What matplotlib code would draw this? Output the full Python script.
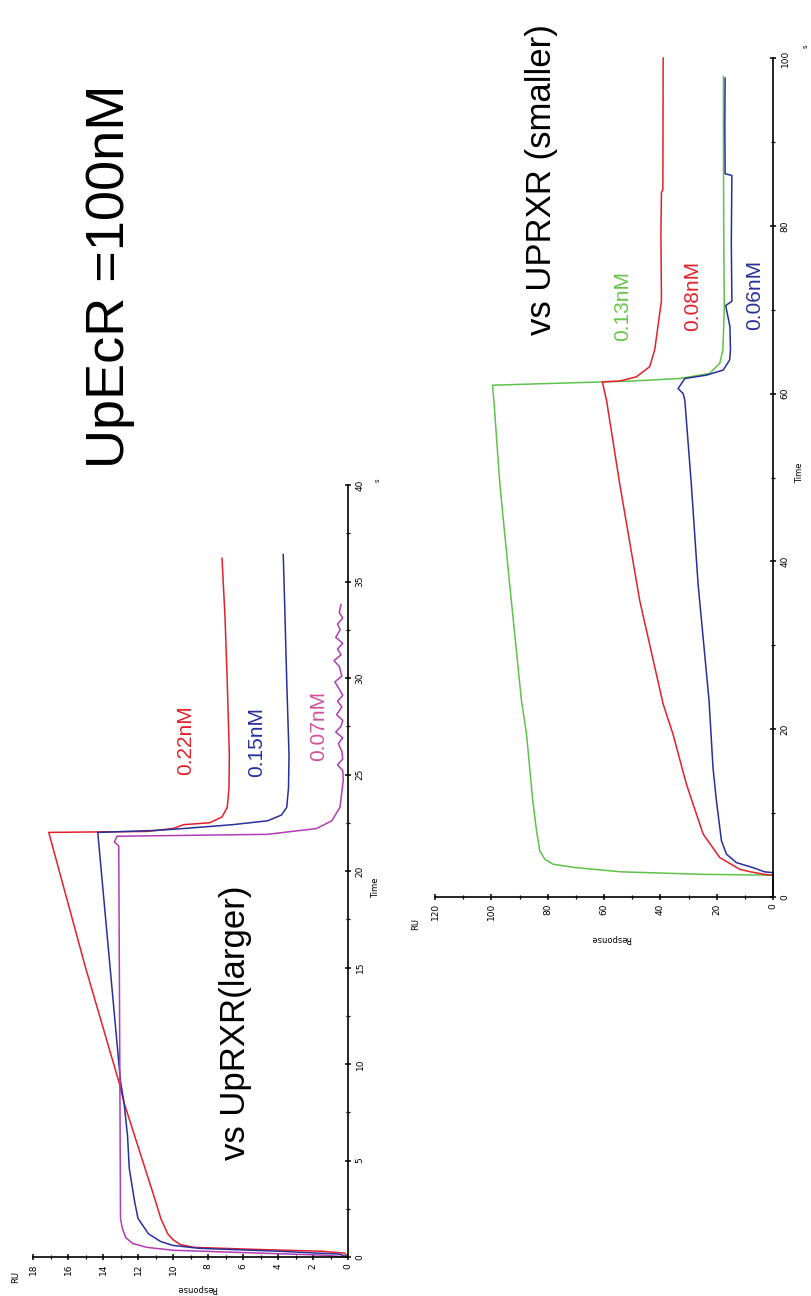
import matplotlib
matplotlib.use("Agg")
import matplotlib.pyplot as plt
from matplotlib import font_manager
from matplotlib.ticker import MultipleLocator

# ---- data: UpEcR 100 nM vs UpRXR (larger), time (s) / response (RU)
larger_t_022 = [0, 0.2, 0.3, 0.4, 0.5, 0.65, 0.9, 1.2, 2.0, 2.9, 4.6, 6.3, 8.0, 9.1, 15.0, 22.0,
                22.05, 22.2, 22.4, 22.5, 22.8, 23.3, 24.3, 26.0, 29.8, 33.2, 36.2]
larger_r_022 = [0, 0.2, 1.5, 5.5, 8.8, 9.6, 10.0, 10.3, 10.7, 11.0, 11.6, 12.2, 12.8, 13.1, 15.0, 17.1,
                11.5, 10.0, 9.4, 7.9, 7.2, 6.9, 6.8, 6.78, 6.9, 7.03, 7.2]
larger_t_015 = [0, 0.15, 0.3, 0.45, 0.6, 0.8, 1.2, 2.0, 2.9, 4.6, 6.3, 8.0, 9.1, 22.0,
                22.1, 22.2, 22.4, 22.6, 22.9, 23.3, 24.3, 26.0, 29.8, 33.2, 36.4]
larger_r_015 = [0, 0.5, 4.0, 8.5, 10.0, 10.7, 11.4, 12.0, 12.2, 12.5, 12.6, 12.8, 13.0, 14.3,
                11.0, 9.4, 6.6, 4.6, 3.8, 3.5, 3.4, 3.37, 3.5, 3.6, 3.7]
larger_t_007 = [0, 0.1, 0.2, 0.35, 0.5, 0.7, 1.0, 1.5, 2.0, 12.0, 21.3, 21.5, 21.8,
                21.9, 22.2, 22.6, 23.3, 24.7, 25.2, 25.5, 25.8, 26.2, 26.6, 26.9, 27.2, 27.5,
                27.8, 28.1, 28.5, 28.8, 29.1, 29.5, 29.8, 30.1, 30.6, 30.9, 31.2, 31.5, 31.8,
                32.1, 32.5, 32.8, 33.1, 33.4, 33.8]
larger_r_007 = [0, 1.5, 5.0, 10.0, 11.5, 12.3, 12.7, 12.9, 13.0, 13.05, 13.1, 13.35, 13.2,
                4.6, 1.8, 0.93, 0.46, 0.27, 0.3, 0.6, 0.3, 0.35, 0.55, 0.3, 0.7, 0.4,
                0.3, 0.65, 0.35, 0.6, 0.3, 0.55, 0.75, 0.35, 0.5, 0.8, 0.4, 0.6, 0.3,
                0.7, 0.45, 0.6, 0.3, 0.5, 0.4]

# ---- data: vs UPRXR (smaller)
smaller_t_013 = [0, 2.6, 2.7, 3.0, 3.5, 3.9, 4.5, 5.5, 8.0, 11.5, 19.4, 23.4, 37.3, 49.3, 59.2, 61.0,
                 61.2, 61.5, 61.8, 62.4, 63.6, 65.2, 70.0, 80.0, 90.0, 97.8]
smaller_r_013 = [0, 0, 25, 54, 70, 78, 81, 82.8, 84.0, 85.3, 87.5, 89.3, 93.5, 97.0, 99.1, 99.6,
                 80, 50, 33, 22.5, 18.9, 17.8, 17.3, 17.5, 17.6, 17.6]
smaller_t_008 = [0, 2.6, 2.7, 3.0, 3.3, 4.7, 7.5, 13.4, 19.4, 23.0, 35.3, 49.2, 59.2, 61.4,
                 61.5, 62.0, 63.2, 65.2, 71.1, 79.0, 84.0, 84.3, 100]
smaller_r_008 = [0, 0, 3, 8, 11.8, 18.9, 24.8, 30.7, 35.5, 39.0, 47.3, 54.4, 59.1, 60.6,
                 54.4, 48.5, 43.8, 42.0, 39.6, 39.8, 39.6, 39.1, 39.0]
smaller_t_006 = [0, 2.9, 3.0, 3.5, 4.1, 5.1, 6.7, 11.5, 15.4, 23.4, 37.3, 49.2, 59.2, 60.0, 60.6,
                 61.2, 61.8, 62.2, 62.8, 64.0, 65.2, 68.0, 70.5, 71.0, 78.0, 86.0, 86.2, 92.0, 97.6]
smaller_r_006 = [0, 0, 3, 7.1, 13.0, 16.5, 18.3, 20.1, 21.3, 22.7, 26.6, 29.0, 31.3, 31.9, 33.7,
                 32.5, 31.3, 23.6, 17.7, 15.4, 15.1, 15.3, 16.8, 14.6, 14.8, 14.6, 17.0, 17.1, 17.0]

RED = "#e3202a"
BLUE = "#27309a"
MAGENTA = "#b23cb4"
GREEN = "#5ec24a"

W, H = 811, 1296
fig = plt.figure(figsize=(W / 100, H / 100), dpi=100)

names = {f.name for f in font_manager.fontManager.ttflist}
narrow = "Liberation Sans Narrow" in names
sub_font = "Liberation Sans Narrow" if narrow else "Liberation Sans"
sub_size = 30 if narrow else 25


def px(x, y):
    return x / W, 1 - y / H


def make_axes(x0, x1, y0, y1, rmax, rstep, rminor, tmax, tstep, tminor):
    l, b = px(x0, y1)
    r, t = px(x1, y0)
    ax = fig.add_axes([l, b, r - l, t - b])
    ax.set_xlim(rmax, 0)
    ax.set_ylim(0, tmax)
    ax.spines["top"].set_visible(False)
    ax.spines["left"].set_visible(False)
    ax.spines["bottom"].set_linewidth(1.2)
    ax.spines["right"].set_linewidth(1.2)
    ax.yaxis.tick_right()
    ax.xaxis.set_major_locator(MultipleLocator(rstep))
    ax.xaxis.set_minor_locator(MultipleLocator(rminor))
    ax.yaxis.set_major_locator(MultipleLocator(tstep))
    ax.yaxis.set_minor_locator(MultipleLocator(tminor))
    ax.tick_params(which="major", direction="inout", length=5, width=1.1, labelsize=6.5)
    ax.tick_params(which="minor", direction="inout", length=3, width=0.9)
    ax.tick_params(axis="x", pad=2, labelrotation=90)
    ax.tick_params(axis="y", pad=3, labelrotation=90)
    for lab in ax.get_yticklabels():
        lab.set_va("center")
    ax.patch.set_alpha(0)
    return ax


ax1 = make_axes(33, 348, 485, 1257, 18, 2, 1, 40, 5, 2.5)
ax1.plot(larger_r_022, larger_t_022, color=RED, lw=1.1, clip_on=False)
ax1.plot(larger_r_015, larger_t_015, color=BLUE, lw=1.1, clip_on=False)
ax1.plot(larger_r_007, larger_t_007, color=MAGENTA, lw=1.1, clip_on=False)

ax2 = make_axes(435, 773, 58, 897, 120, 20, 10, 100, 20, 10)
ax2.plot(smaller_r_013, smaller_t_013, color=GREEN, lw=1.1, clip_on=False)
ax2.plot(smaller_r_008, smaller_t_008, color=RED, lw=1.1, clip_on=False)
ax2.plot(smaller_r_006, smaller_t_006, color=BLUE, lw=1.1, clip_on=False)

lab_kw = dict(rotation=90, ha="center", va="center", fontsize=15, family="Liberation Sans")
ax1.text(9.26, 26.8, "0.22nM", color=RED, **lab_kw)
ax1.text(5.2, 26.7, "0.15nM", color=BLUE, **lab_kw)
ax1.text(1.7, 27.5, "0.07nM", color="#d4509a", **lab_kw)
ax2.text(53.5, 70.4, "0.13nM", color="#66c447", **lab_kw)
ax2.text(28.5, 71.6, "0.08nM", color=RED, **lab_kw)
ax2.text(6.5, 71.7, "0.06nM", color=BLUE, **lab_kw)

# axis captions
small = dict(fontsize=6, ha="center", va="center")
fig.text(*px(376, 888), "Time", rotation=90, **small)
fig.text(*px(800, 473), "Time", rotation=90, **small)
fig.text(*px(16, 1277), "RU", rotation=90, **small)
fig.text(*px(416, 924), "RU", rotation=90, **small)
fig.text(*px(197, 1289), "Response", rotation=180, **small)
fig.text(*px(611, 939), "Response", rotation=180, **small)
fig.text(*px(378, 480), "s", rotation=90, fontsize=5, ha="center", va="center")
fig.text(*px(806, 46), "s", rotation=90, fontsize=5, ha="center", va="center")

# titles
fig.text(*px(110, 276), "UpEcR =100nM", rotation=90, ha="center", va="center",
         fontsize=39, family="Liberation Sans")
fig.text(*px(236, 1023), "vs UpRXR(larger)", rotation=90, ha="center", va="center",
         fontsize=sub_size, family=sub_font)
fig.text(*px(542, 180), "vs UPRXR (smaller)", rotation=90, ha="center", va="center",
         fontsize=sub_size, family=sub_font)

fig.savefig("out.png", dpi=100)
